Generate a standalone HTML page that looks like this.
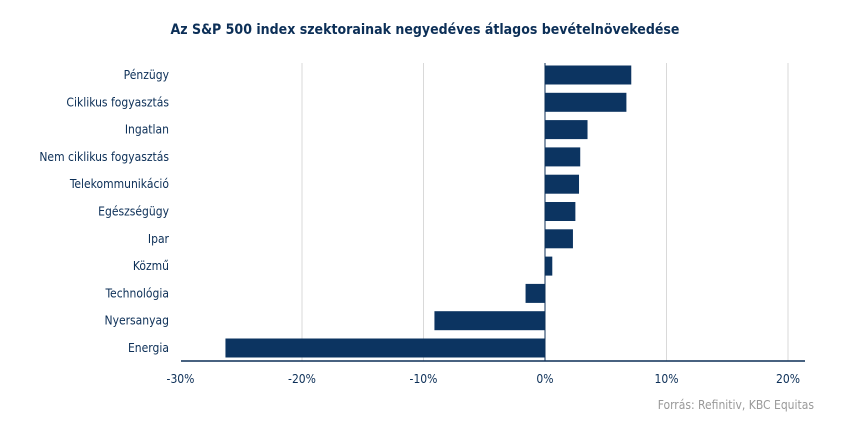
<!DOCTYPE html>
<html><head><meta charset="utf-8"><style>
body{margin:0;background:#fff;}
svg text{font-family:"DejaVu Sans Condensed","Liberation Sans",sans-serif;}
</style></head><body>
<svg width="850" height="417">
<text x="425" y="34" text-anchor="middle" font-size="14" font-weight="bold" fill="#0c2f57">Az S&amp;P 500 index szektorainak negyedéves átlagos bevételnövekedése</text>
<g id="grid"></g><g id="bars"></g><g id="labels"></g><g id="ticks"></g>
<line x1="181" x2="805" y1="361" y2="361" stroke="#0c2f57" stroke-width="1.5"/>
<text x="814" y="409" text-anchor="end" font-size="12" fill="#999">Forrás: Refinitiv, KBC Equitas</text>
</svg>
<script>
const categories=["Pénzügy","Ciklikus fogyasztás","Ingatlan","Nem ciklikus fogyasztás","Telekommunikáció","Egészségügy","Ipar","Közmű","Technológia","Nyersanyag","Energia"];
const values=[7.1,6.7,3.5,2.9,2.8,2.5,2.3,0.6,-1.6,-9.1,-26.3];
const tickValues=[-30,-20,-10,0,10,20];
const tickLabels=["-30%","-20%","-10%","0%","10%","20%"];
const ns="http://www.w3.org/2000/svg";
const x=v=>545+v*12.15;
const y=i=>75+i*27.3;
function mk(t,a,p){const e=document.createElementNS(ns,t);for(const k in a)e.setAttribute(k,a[k]);document.getElementById(p).appendChild(e);return e;}
tickValues.forEach((v,i)=>{
 if(v!==0&&v!==-30){const g=mk("line",{x1:x(v),x2:x(v),y1:63,y2:361,stroke:"#d9d9d9"},"grid");
 
 }
 const t=mk("text",{x:x(v),y:383,"text-anchor":"middle","font-size":12,fill:"#0c2f57"},"ticks");
 t.textContent=tickLabels[i];
 
 
});
categories.forEach((c,i)=>{
 const v=values[i];
 const r=mk("rect",{x:Math.min(x(0),x(v)),y:y(i)-9.5,width:Math.abs(x(v)-x(0)),height:19,fill:"#0c3461"},"bars");
 
 
 const t=mk("text",{x:169,y:y(i)+4,"text-anchor":"end","font-size":12,fill:"#0c2f57"},"labels");
 t.textContent=c;
 
 
});
mk("line",{x1:545,x2:545,y1:63,y2:361,stroke:"#0c2f57","stroke-width":1},"bars");
</script>
</body></html>
